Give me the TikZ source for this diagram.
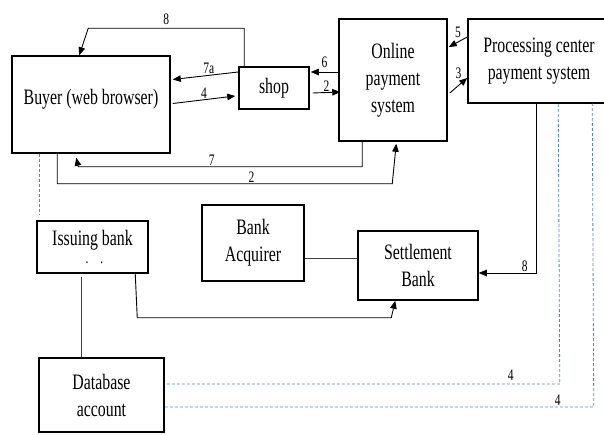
\documentclass[tikz,border=0pt]{standalone}
\usepackage{fontspec}
\setmainfont[FakeStretch=0.72]{Liberation Serif}
\usetikzlibrary{arrows.meta,calc}
\newcommand{\boxfont}{\fontsize{22}{27}\selectfont}
\newcommand{\numfont}{\fontsize{16}{18}\selectfont}
\definecolor{dashblue}{RGB}{80,135,215}

\begin{document}
\begin{tikzpicture}[x=1pt, y=-1pt,
    party/.style={rectangle, draw, line width=1.5pt, align=center, font=\boxfont, inner sep=1pt},
    arrow/.style={-{Triangle[length=8pt,width=6.5pt]}, line width=0.9pt},
    link/.style={line width=0.8pt, draw=black!75},
    dashref/.style={dashed, dash pattern=on 3pt off 2pt, draw=dashblue, line width=0.8pt},
    msg/.style={font=\numfont, inner sep=1pt}
]
    \clip (0,0) rectangle (604,435);

    % Teilnehmer
    \node[party, minimum width=158pt, minimum height=97pt, text depth=15pt] (buyer) at (91,104.5) {Buyer (web browser)};
    \node[party, minimum width=70pt, minimum height=42pt] (shop) at (274,88) {shop};
    \node[party, minimum width=108pt, minimum height=122pt] (online) at (393,80) {Online\\payment\\system};
    \node[party, minimum width=142pt, minimum height=84pt] (proc) at (539,61) {Processing center\\payment system};
    \node[party, minimum width=111pt, minimum height=52pt] (issuing) at (92.5,247) {Issuing bank\\[-9pt]{\numfont\hspace{4pt}.\hspace{12pt}.}};
    \node[party, minimum width=102pt, minimum height=76pt] (acq) at (253,243) {Bank\\Acquirer};
    \node[party, minimum width=120pt, minimum height=69pt] (settle) at (418,265.5) {Settlement\\Bank};
    \node[party, minimum width=125pt, minimum height=74pt] (db) at (101.5,395) {Database\\account};

    % Nachrichten oben
    \draw[arrow] ($(shop.north west)+(6,0)$) -- ++(0,-38) -- node[msg, above, yshift=2pt] {8} ++(-156,0) -- ($(buyer.north west)+(68,0)$);
    \draw[arrow] ($(shop.west)+(0,-16)$) -- node[msg, above, pos=0.45] {7a} ($(buyer.east)+(2,-25)$);
    \draw[arrow] ($(buyer.east)+(2,-1)$) -- node[msg, above] {4} ($(shop.west)+(-3,8)$);
    \draw[arrow] ($(online.west)+(0,-8)$) -- node[msg, above, yshift=3pt] {6} ($(shop.east)+(1,-16)$);
    \draw[arrow] ($(shop.east)+(3,5)$) -- node[msg, above] {2} ($(online.west)+(2,12)$);
    \draw[arrow] ($(proc.west)+(0,-24)$) -- node[msg, above, yshift=3pt] {5} ($(online.east)+(1,-33)$);
    \draw[arrow] ($(online.east)+(2,13)$) -- node[msg, above, yshift=5pt] {3} ($(proc.west)+(0,17)$);

    % Rueckwege unten
    \draw[arrow] ($(online.south west)+(24,0)$) -- ++(0,25) -- node[msg, above, pos=0.53] {7} ++(-284,0) -- ($(buyer.south west)+(65,4)$);
    \draw[arrow] ($(buyer.south west)+(46,0)$) -- ++(0,30) -- node[msg, above, pos=0.58] {2} ++(335,0) -- ($(online.south west)+(58,2)$);

    % Banken
    \draw[arrow] ($(proc.south west)+(69,0)$) |- node[msg, above, pos=0.6] {8} ($(settle.east)+(0,7.5)$);
    \draw[link] ($(acq.east)+(0,15)$) -- ($(settle.west)+(0,-7.5)$);
    \draw[arrow] ($(issuing.south west)+(99,0)$) -- ++(2,44) -- ++(254,0) -- ($(settle.south west)+(38,0)$);
    \draw[link] ($(issuing.south west)+(45,3)$) -- ($(db.north west)+(43,0)$);

    % Datenabgleich
    \draw[dashref] ($(buyer.south west)+(28,0)$) -- ($(issuing.north west)+(3,-6)$);
    \draw[dashref] ($(db.east)+(2,-11)$) -- node[msg, above, pos=0.875, yshift=2pt] {4} ++(393,0) -- ($(proc.south west)+(91,0)$);
    \draw[dashref] ($(db.east)+(0,12)$) -- node[msg, above, pos=0.916] {4} ++(429,0) -- ($(proc.south west)+(125,0)$);
\end{tikzpicture}
\end{document}
